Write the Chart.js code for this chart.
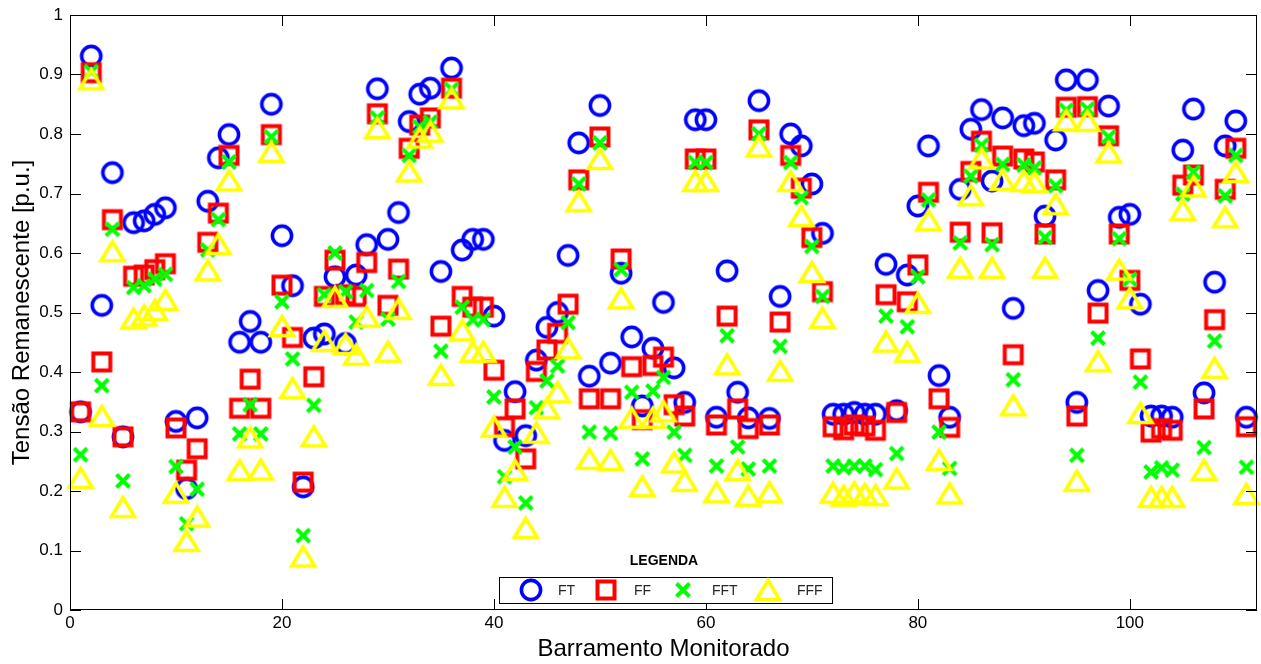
<!DOCTYPE html>
<html>
<head>
<meta charset="utf-8">
<script src="https://cdn.jsdelivr.net/npm/chart.js@4.4.1/dist/chart.umd.min.js"></script>
<style>
  html, body { margin: 0; padding: 0; background: #fff; overflow: hidden; }
  #wrap { width: 1261px; height: 664px; }
</style>
</head>
<body>
<div id="wrap"><canvas id="c" width="1261" height="664"></canvas></div>
<script>
// Monitored buses (x categories)
const buses = [1,2,3,4,5,6,7,8,9,10,11,12,13,14,15,16,17,18,19,20,
  21,22,23,24,25,26,27,28,29,30,31,32,33,34,35,36,37,38,39,40,
  41,42,43,44,45,46,47,48,49,50,51,52,53,54,55,56,57,58,59,60,
  61,62,63,64,65,66,67,68,69,70,71,72,73,74,75,76,77,78,79,80,
  81,82,83,84,85,86,87,88,89,90,91,92,93,94,95,96,97,98,99,100,
  101,102,103,104,105,106,107,108,109,110,111];

// Remaining voltage [p.u.] per fault type
const ft = [0.333,0.931,0.512,0.735,0.291,0.651,0.654,0.665,0.676,0.317,
  0.204,0.323,0.687,0.760,0.799,0.450,0.485,0.450,0.850,0.629,
  0.545,0.207,0.457,0.464,0.560,0.448,0.563,0.614,0.876,0.623,
  0.668,0.821,0.867,0.877,0.569,0.911,0.605,0.623,0.623,0.494,
  0.285,0.367,0.293,0.420,0.475,0.500,0.596,0.785,0.393,0.848,
  0.415,0.566,0.459,0.343,0.440,0.517,0.407,0.349,0.824,0.824,
  0.324,0.570,0.366,0.323,0.856,0.322,0.527,0.800,0.780,0.716,
  0.633,0.329,0.329,0.332,0.329,0.329,0.581,0.335,0.563,0.679,
  0.780,0.394,0.324,0.707,0.808,0.841,0.721,0.827,0.507,0.814,
  0.818,0.662,0.790,0.891,0.349,0.891,0.537,0.847,0.660,0.665,
  0.514,0.326,0.326,0.324,0.773,0.842,0.365,0.551,0.780,0.822,0.324];

const ff = [0.333,0.903,0.417,0.656,0.291,0.561,0.563,0.572,0.582,0.306,
  0.235,0.271,0.618,0.667,0.764,0.339,0.388,0.339,0.799,0.546,
  0.458,0.215,0.392,0.527,0.588,0.530,0.527,0.584,0.834,0.512,
  0.573,0.776,0.815,0.827,0.477,0.877,0.527,0.509,0.509,0.403,
  0.308,0.338,0.254,0.401,0.437,0.465,0.514,0.723,0.355,0.795,
  0.355,0.590,0.409,0.320,0.411,0.425,0.345,0.326,0.758,0.758,
  0.311,0.494,0.338,0.305,0.807,0.311,0.484,0.764,0.709,0.626,
  0.535,0.308,0.303,0.311,0.309,0.302,0.530,0.332,0.518,0.580,
  0.702,0.355,0.307,0.635,0.737,0.788,0.634,0.763,0.429,0.758,
  0.753,0.632,0.723,0.845,0.326,0.846,0.499,0.797,0.632,0.554,
  0.422,0.299,0.305,0.302,0.714,0.731,0.338,0.488,0.707,0.776,0.308];

const fft = [0.261,0.905,0.377,0.640,0.217,0.542,0.545,0.556,0.564,0.241,
  0.145,0.203,0.605,0.656,0.753,0.296,0.345,0.296,0.795,0.518,
  0.422,0.125,0.344,0.530,0.600,0.535,0.484,0.537,0.827,0.489,
  0.552,0.764,0.812,0.820,0.435,0.875,0.509,0.488,0.488,0.358,
  0.224,0.274,0.180,0.340,0.385,0.410,0.483,0.716,0.299,0.785,
  0.297,0.572,0.366,0.254,0.368,0.391,0.299,0.260,0.752,0.752,
  0.242,0.461,0.274,0.237,0.800,0.242,0.443,0.752,0.693,0.611,
  0.527,0.242,0.239,0.242,0.242,0.236,0.494,0.263,0.476,0.560,
  0.689,0.299,0.238,0.617,0.729,0.781,0.614,0.749,0.387,0.748,
  0.743,0.626,0.713,0.840,0.260,0.842,0.457,0.795,0.624,0.556,
  0.383,0.232,0.239,0.235,0.699,0.736,0.273,0.452,0.696,0.764,0.240];

const fff = [0.222,0.892,0.326,0.603,0.173,0.490,0.495,0.504,0.521,0.197,
  0.116,0.157,0.571,0.615,0.722,0.235,0.290,0.236,0.770,0.477,
  0.373,0.090,0.292,0.452,0.526,0.447,0.429,0.493,0.810,0.434,
  0.506,0.737,0.794,0.804,0.395,0.860,0.470,0.434,0.434,0.308,
  0.190,0.235,0.138,0.298,0.339,0.366,0.440,0.687,0.254,0.758,
  0.252,0.524,0.323,0.208,0.323,0.334,0.248,0.217,0.721,0.721,
  0.198,0.413,0.235,0.192,0.779,0.198,0.402,0.721,0.662,0.568,
  0.491,0.197,0.192,0.198,0.195,0.193,0.451,0.221,0.434,0.516,
  0.655,0.252,0.196,0.575,0.697,0.759,0.575,0.723,0.344,0.721,
  0.719,0.575,0.682,0.823,0.217,0.822,0.418,0.769,0.572,0.524,
  0.331,0.190,0.190,0.190,0.672,0.712,0.235,0.407,0.660,0.736,0.195];

const seriesNames = ['FT', 'FF', 'FFT', 'FFF'];
const xTickValues = [0, 20, 40, 60, 80, 100];
const yTickValues = [0, 0.1, 0.2, 0.3, 0.4, 0.5, 0.6, 0.7, 0.8, 0.9, 1];
const yTickLabels = ['0', '0.1', '0.2', '0.3', '0.4', '0.5', '0.6', '0.7', '0.8', '0.9', '1'];

const FONT = "'Liberation Sans', Arial, Helvetica, sans-serif";

// Marker glyphs drawn on small canvases so they sit exactly centred on the value
function makeMarker(kind, color) {
  const s = 36, m = s / 2;
  const c = document.createElement('canvas');
  c.width = s; c.height = s;
  const g = c.getContext('2d');
  g.strokeStyle = color;
  g.lineJoin = 'miter';
  g.beginPath();
  if (kind === 'circle') {
    g.lineWidth = 3.6;
    g.arc(m, m, 9.6, 0, Math.PI * 2);
  } else if (kind === 'square') {
    g.lineWidth = 4;
    g.rect(m - 8.5, m - 8.5, 17, 17);
  } else if (kind === 'x') {
    g.lineWidth = 4;
    g.moveTo(m - 6.5, m - 6.5); g.lineTo(m + 6.5, m + 6.5);
    g.moveTo(m + 6.5, m - 6.5); g.lineTo(m - 6.5, m + 6.5);
  } else {
    g.lineWidth = 3.6;
    g.moveTo(m, m - 9.5);
    g.lineTo(m + 11.5, m + 9.5);
    g.lineTo(m - 11.5, m + 9.5);
    g.closePath();
  }
  g.stroke();
  return c;
}

const markers = [
  makeMarker('circle', '#0000ff'),
  makeMarker('square', '#ff0000'),
  makeMarker('x', '#00ff00'),
  makeMarker('triangle', '#ffff00')
];

function pts(vals) { return buses.map((b, i) => ({ x: b, y: vals[i] })); }

// Inward ticks on all four sides, the axes box and the legend panel
const framePlugin = {
  id: 'frame',
  afterDraw(chart) {
    const { ctx, chartArea: a, scales: { x, y } } = chart;
    const L = 11;
    ctx.save();
    ctx.strokeStyle = '#000';
    ctx.lineWidth = 1;
    ctx.beginPath();
    xTickValues.forEach(v => {
      const px = Math.round(x.getPixelForValue(v)) + 0.5;
      ctx.moveTo(px, a.bottom); ctx.lineTo(px, a.bottom - L);
      ctx.moveTo(px, a.top); ctx.lineTo(px, a.top + L);
    });
    yTickValues.forEach(v => {
      const py = Math.round(y.getPixelForValue(v)) + 0.5;
      ctx.moveTo(a.left, py); ctx.lineTo(a.left + L, py);
      ctx.moveTo(a.right, py); ctx.lineTo(a.right - L, py);
    });
    ctx.stroke();
    ctx.strokeRect(Math.round(a.left) + 0.5, Math.round(a.top) + 0.5,
      Math.round(a.right - a.left) - 1, Math.round(a.bottom - a.top) - 1);

    // legend
    const bx = 499, by = 577, bw = 333, bh = 26;
    ctx.fillStyle = '#fff';
    ctx.fillRect(bx, by, bw, bh);
    ctx.strokeStyle = '#000';
    ctx.strokeRect(bx + 0.5, by + 0.5, bw, bh);
    ctx.fillStyle = '#000';
    ctx.font = 'bold 14px ' + FONT;
    ctx.textAlign = 'center';
    ctx.textBaseline = 'middle';
    ctx.fillText('LEGENDA', 664, 561);
    const cy = by + bh / 2;
    const mx = [531, 606, 683, 768];
    const tx = [558, 634, 712, 797];
    ctx.font = '14px ' + FONT;
    ctx.textAlign = 'left';
    ctx.fillStyle = '#262626';
    seriesNames.forEach((name, i) => {
      const m = markers[i];
      ctx.drawImage(m, mx[i] - m.width / 2, cy - m.height / 2);
      ctx.fillText(name, tx[i], cy + 1);
    });
    ctx.restore();
  }
};

const colors = ['#0000ff', '#ff0000', '#00ff00', '#ffff00'];
const series = [ft, ff, fft, fff];

new Chart(document.getElementById('c'), {
  type: 'scatter',
  data: {
    datasets: series.map((vals, i) => ({
      label: seriesNames[i],
      data: pts(vals),
      pointStyle: markers[i],
      pointRadius: 1,
      pointBorderWidth: 0,
      borderWidth: 0,
      borderColor: colors[i],
      backgroundColor: colors[i],
      showLine: false,
      clip: false,
      order: 4 - i
    }))
  },
  options: {
    responsive: false,
    animation: false,
    devicePixelRatio: 1,
    layout: { padding: { left: 0, top: 15, right: 4, bottom: 0 } },
    plugins: { legend: { display: false }, tooltip: { enabled: false } },
    scales: {
      x: {
        type: 'linear',
        min: 0, max: 112,
        afterBuildTicks: s => { s.ticks = xTickValues.map(v => ({ value: v })); },
        afterFit: s => { s.height = 54; s.paddingLeft = 0; s.paddingRight = 0; },
        grid: { display: false, drawTicks: false },
        border: { display: false },
        ticks: {
          padding: 3,
          color: '#000',
          font: { family: FONT, size: 17 },
          maxRotation: 0,
          callback: v => String(v)
        },
        title: {
          display: true,
          text: 'Barramento Monitorado',
          color: '#000',
          font: { family: FONT, size: 24 },
          padding: { top: 0, bottom: 0 }
        }
      },
      y: {
        type: 'linear',
        min: 0, max: 1,
        afterBuildTicks: s => { s.ticks = yTickValues.map(v => ({ value: v })); },
        afterFit: s => { s.width = 70; s.paddingTop = 0; s.paddingBottom = 0; },
        grid: { display: false, drawTicks: false },
        border: { display: false },
        ticks: {
          padding: 7,
          color: '#000',
          font: { family: FONT, size: 17 },
          callback: (v, i) => yTickLabels[i]
        },
        title: {
          display: true,
          text: 'Tensão Remanescente [p.u.]',
          color: '#000',
          font: { family: FONT, size: 24 },
          padding: { top: 8, bottom: 0 }
        }
      }
    }
  },
  plugins: [framePlugin]
});
</script>
</body>
</html>
